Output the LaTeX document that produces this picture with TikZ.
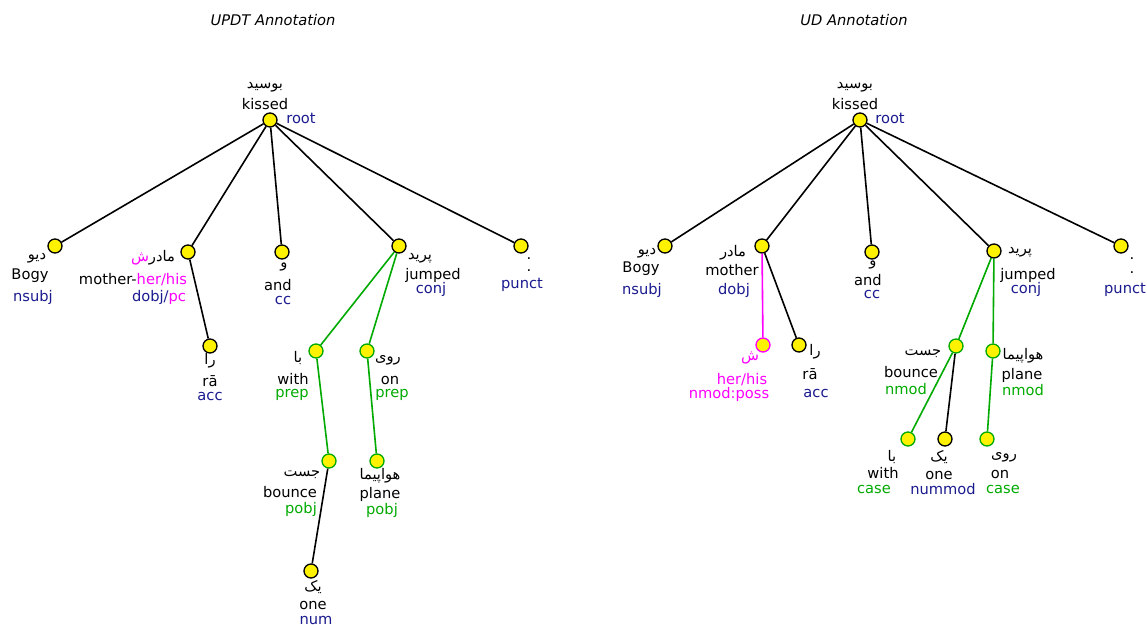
\documentclass[tikz,border=0pt]{standalone}
\usepackage{fontspec}
\setmainfont{DejaVu Sans}
\newfontfamily\arabicfont[Script=Arabic]{DejaVu Sans}
\TeXXeTstate=1
\usepackage{xcolor}
\usepackage{tikz}
\definecolor{relblue}{HTML}{1A1A8F}
\definecolor{relgreen}{HTML}{00AA00}
\definecolor{relpink}{HTML}{FF00FF}

\begin{document}
\begin{tikzpicture}[x=0.75pt, y=-0.75pt,
    tok/.style={circle, draw, fill=yellow, line width=1pt, inner sep=0pt, minimum size=10.5pt},
    dep/.style={line width=1.2pt},
    word/.style={inner sep=0pt, font=\fontsize{11}{13}\selectfont},
    fa/.style={word, font=\fontsize{11}{13}\selectfont\arabicfont},
    rel/.style={word, text=relblue},
    grn/.style={word, text=relgreen},
    pnk/.style={word, text=relpink}]
  \useasboundingbox (0,0) rectangle (1147,625);
  % titles
  \node[word, font=\fontsize{11}{13}\selectfont\itshape] (titleUPDT) at (273,20) {UPDT Annotation};
  \node[word, font=\fontsize{11}{13}\selectfont\itshape] (titleUD) at (854,20) {UD Annotation};

  % ---- UPDT tree ----
  \node[tok] (uKissed) at (270,120) {};
  \node[tok] (uBogy) at (55,246) {};
  \node[tok] (uMother) at (188,252) {};
  \node[tok] (uAnd) at (282,252) {};
  \node[tok] (uJumped) at (399,246) {};
  \node[tok] (uPunct) at (521,246) {};
  \node[tok] (uRa) at (210,346) {};
  \node[tok, draw=relgreen] (uWith) at (316,351) {};
  \node[tok, draw=relgreen] (uOn) at (367,351) {};
  \node[tok, draw=relgreen] (uBounce) at (329,461) {};
  \node[tok, draw=relgreen] (uPlane) at (377,461) {};
  \node[tok] (uOne) at (311,571) {};
  % arcs
  \foreach \dst in {uBogy, uMother, uAnd, uJumped, uPunct}
    \draw[dep] (uKissed) -- (\dst);
  \draw[dep] (uMother) -- (uRa);
  \draw[dep, relgreen] (uJumped) -- (uWith);
  \draw[dep, relgreen] (uJumped) -- (uOn);
  \draw[dep, relgreen] (uWith) -- (uBounce);
  \draw[dep, relgreen] (uOn) -- (uPlane);
  \draw[dep] (uBounce) -- (uOne);
  % labels
  \node[fa] (uKissedFa) at (265,87) {\beginR بوسید\endR};
  \node[word] (uKissedEn) at (265,104) {kissed};
  \node[rel] (uKissedRel) at (301,118) {root};
  \node[fa] (uBogyFa) at (37,258) {\beginR دیو\endR};
  \node[word] (uBogyEn) at (30,276) {Bogy};
  \node[rel] (uBogyRel) at (33,297) {nsubj};
  \node[fa] (uMotherFa) at (153,258) {{\color{relpink}\beginR ش\endR}\beginR مادر\endR};
  \node[word] (uMotherEn) at (133,280) {mother-\textcolor{relpink}{her/his}};
  \node[rel] (uMotherRel) at (159,297) {dobj/\textcolor{relpink}{pc}};
  \node[fa] (uAndFa) at (284,267) {\beginR و\endR};
  \node[word] (uAndEn) at (278,285) {and};
  \node[rel] (uAndRel) at (283,300) {cc};
  \node[fa] (uJumpedFa) at (420,258) {\beginR پرید\endR};
  \node[word] (uJumpedEn) at (433,275) {jumped};
  \node[rel] (uJumpedRel) at (431,289) {conj};
  \node[word] (uPunctFa) at (529,259) {.};
  \node[word] (uPunctEn) at (529,271) {.};
  \node[rel] (uPunctRel) at (522,285) {punct};
  \node[fa] (uRaFa) at (210,361) {\beginR را\endR};
  \node[word] (uRaEn) at (210,381) {rā};
  \node[rel] (uRaRel) at (210,396) {acc};
  \node[fa] (uWithFa) at (298,358) {\beginR با\endR};
  \node[word] (uWithEn) at (293,379) {with};
  \node[grn] (uWithRel) at (292,395) {prep};
  \node[fa] (uOnFa) at (388,360) {\beginR روی\endR};
  \node[word] (uOnEn) at (390,380) {on};
  \node[grn] (uOnRel) at (392,395) {prep};
  \node[fa] (uBounceFa) at (302,475) {\beginR جست\endR};
  \node[word] (uBounceEn) at (290,492) {bounce};
  \node[grn] (uBounceRel) at (301,509) {pobj};
  \node[fa] (uPlaneFa) at (380,476) {\beginR هواپیما\endR};
  \node[word] (uPlaneEn) at (380,494) {plane};
  \node[grn] (uPlaneRel) at (382,510) {pobj};
  \node[fa] (uOneFa) at (313,587) {\beginR یک\endR};
  \node[word] (uOneEn) at (313,605) {one};
  \node[rel] (uOneRel) at (316,620) {num};

  % ---- UD tree ----
  \node[tok] (dKissed) at (860,120) {};
  \node[tok] (dBogy) at (665,246) {};
  \node[tok] (dMother) at (762,246) {};
  \node[tok] (dAnd) at (872,252) {};
  \node[tok] (dJumped) at (994,251) {};
  \node[tok] (dPunct) at (1121,246) {};
  \node[tok, draw=relpink] (dPoss) at (763,345) {};
  \node[tok] (dRa) at (799,345) {};
  \node[tok, draw=relgreen] (dBounce) at (956,346) {};
  \node[tok, draw=relgreen] (dPlane) at (993,351) {};
  \node[tok, draw=relgreen] (dWith) at (908,439) {};
  \node[tok] (dOne) at (945,439) {};
  \node[tok, draw=relgreen] (dOn) at (987,439) {};
  % arcs
  \foreach \dst in {dBogy, dMother, dAnd, dJumped, dPunct}
    \draw[dep] (dKissed) -- (\dst);
  \draw[dep, relpink] (dMother) -- (dPoss);
  \draw[dep] (dMother) -- (dRa);
  \draw[dep, relgreen] (dJumped) -- (dBounce);
  \draw[dep, relgreen] (dJumped) -- (dPlane);
  \draw[dep, relgreen] (dBounce) -- (dWith);
  \draw[dep] (dBounce) -- (dOne);
  \draw[dep, relgreen] (dPlane) -- (dOn);
  % labels
  \node[fa] (dKissedFa) at (855,87) {\beginR بوسید\endR};
  \node[word] (dKissedEn) at (855,104) {kissed};
  \node[rel] (dKissedRel) at (890,118) {root};
  \node[fa] (dBogyFa) at (647,253) {\beginR دیو\endR};
  \node[word] (dBogyEn) at (641,269) {Bogy};
  \node[rel] (dBogyRel) at (642,290) {nsubj};
  \node[fa] (dMotherFa) at (733,253) {\beginR مادر\endR};
  \node[word] (dMotherEn) at (732,270) {mother};
  \node[rel] (dMotherRel) at (734,290) {dobj};
  \node[fa] (dAndFa) at (873,265) {\beginR و\endR};
  \node[word] (dAndEn) at (868,280) {and};
  \node[rel] (dAndRel) at (872,294) {cc};
  \node[fa] (dJumpedFa) at (1020,252) {\beginR پرید\endR};
  \node[word] (dJumpedEn) at (1028,275) {jumped};
  \node[rel] (dJumpedRel) at (1026,289) {conj};
  \node[word] (dPunctFa) at (1132,259) {.};
  \node[word] (dPunctEn) at (1132,273) {.};
  \node[rel] (dPunctRel) at (1125,290) {punct};
  \node[fa, text=relpink] (dPossFa) at (750,358) {\beginR ش\endR};
  \node[pnk] (dPossEn) at (742,380) {her/his};
  \node[pnk] (dPossRel) at (729,394) {nmod:poss};
  \node[fa] (dRaFa) at (815,352) {\beginR را\endR};
  \node[word] (dRaEn) at (810,374) {rā};
  \node[rel] (dRaRel) at (816,393) {acc};
  \node[fa] (dBounceFa) at (923,354) {\beginR جست\endR};
  \node[word] (dBounceEn) at (911,372) {bounce};
  \node[grn] (dBounceRel) at (906,389) {nmod};
  \node[fa] (dPlaneFa) at (1023,356) {\beginR هواپیما\endR};
  \node[word] (dPlaneEn) at (1022,375) {plane};
  \node[grn] (dPlaneRel) at (1023,390) {nmod};
  \node[fa] (dWithFa) at (892,457) {\beginR با\endR};
  \node[word] (dWithEn) at (883,473) {with};
  \node[grn] (dWithRel) at (874,489) {case};
  \node[fa] (dOneFa) at (939,457) {\beginR یک\endR};
  \node[word] (dOneEn) at (939,475) {one};
  \node[rel] (dOneRel) at (943,489) {nummod};
  \node[fa] (dOnFa) at (1004,457) {\beginR روی\endR};
  \node[word] (dOnEn) at (1000,474) {on};
  \node[grn] (dOnRel) at (1003,489) {case};
\end{tikzpicture}
\end{document}
